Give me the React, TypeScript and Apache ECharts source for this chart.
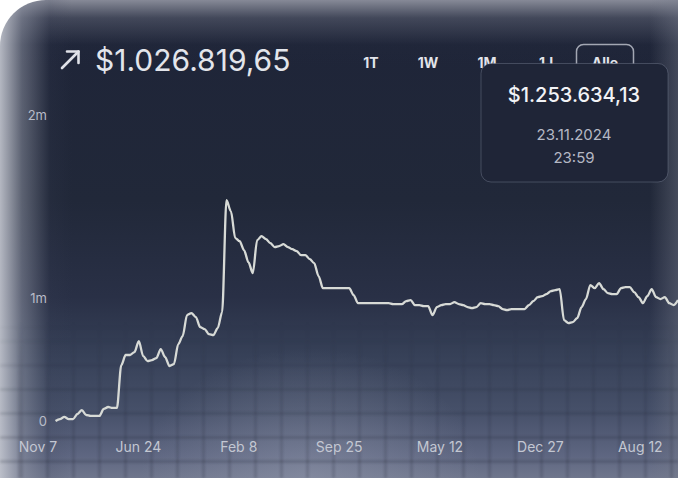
import React, { useEffect, useRef } from 'react';
import * as echarts from 'echarts';

// ---- data (values in thousands of $) ----
const START_DATE = '2021-11-07';
const STEP_DAYS = 10;
const valuesK: (number | null)[] = [
  null, null, null, null, 0, 16, 33, 16, 16, 57, 89, 49, 41, 41, 41, 98, 114, 106, 106,
  455, 537, 537, 561, 650, 528, 488, 496, 512, 585, 520, 447, 463, 626, 691, 862, 878, 846,
  764, 748, 707, 699, 756, 886,
  1797, 1707, 1488, 1463, 1390, 1293, 1203, 1472, 1504, 1480, 1447, 1415, 1423, 1439, 1415,
  1398, 1382, 1350, 1350, 1317, 1285, 1179, 1081,
  1081, 1081, 1081, 1081, 1081, 1081, 1024,
  959, 959, 959, 959, 959, 959, 959, 959,
  951, 951, 951, 976, 984, 943, 943, 935, 935, 862, 927, 943, 951, 951, 967, 951, 943, 927,
  919, 927, 959, 951, 951, 943, 935, 911, 902, 911, 911, 911, 911, 943, 976, 1008, 1016,
  1033, 1057, 1065, 1073, 821, 797, 805, 837, 927, 992, 1106, 1081, 1122, 1073, 1041, 1033,
  1033, 1081, 1089, 1089, 1049, 1008, 959, 1016, 1073, 1008, 992, 1008, 959, 943, 984,
];
const xTickDates = ['2021-11-07', '2022-06-24', '2023-02-08', '2023-09-25', '2024-05-12', '2024-12-27', '2025-08-12'];
const xTickLabels = ['Nov 7', 'Jun 24', 'Feb 8', 'Sep 25', 'May 12', 'Dec 27', 'Aug 12'];
const yTickValues = [0, 1000, 2490];
const yTickLabels = ['0', '1m', '2m'];
const headerValue = '$1.026.819,65';
const rangeButtons = ['1T', '1W', '1M', '1J', 'Alle'];
const tooltipValue = '$1.253.634,13';
const tooltipDate = '23.11.2024';
const tooltipTime = '23:59';

const DAY = 86400000;
const FONT = 'Inter, "Noto Sans", sans-serif';

function toUTC(s: string) {
  const [y, m, d] = s.split('-').map(Number);
  return Date.UTC(y, m - 1, d);
}

export default function App() {
  const ref = useRef<HTMLDivElement>(null);

  useEffect(() => {
    if (!ref.current) return;
    const chart = echarts.init(ref.current, undefined, { renderer: 'svg' });
    const t0 = toUTC(START_DATE);
    // x in days since start date
    const data = valuesK.map((v, i) => [i * STEP_DAYS, v]);
    const xTickValues = xTickDates.map((s) => Math.round((toUTC(s) - t0) / DAY));
    const btnX = [371, 428, 487, 546, 605];

    const graphic: any[] = [
      { type: 'polyline', z: 10, shape: { points: [[62, 68], [78.5, 51.5]] }, style: { stroke: '#dfe1e8', lineWidth: 2.6, lineCap: 'round', fill: null } },
      { type: 'polyline', z: 10, shape: { points: [[67, 51.5], [78.5, 51.5], [78.5, 63]] }, style: { stroke: '#dfe1e8', lineWidth: 2.6, lineCap: 'round', lineJoin: 'round', fill: null } },
      { type: 'text', z: 10, x: 95, y: 60, style: { text: headerValue, fill: '#e3e5eb', fontSize: 30, fontFamily: FONT, verticalAlign: 'middle', align: 'left' } },
      { type: 'rect', z: 10, shape: { x: 576.5, y: 44.5, width: 57, height: 36, r: 7 }, style: { fill: 'none', stroke: '#a3a7b3', lineWidth: 1.5 } },
      ...rangeButtons.map((b, i) => ({
        type: 'text', z: 10, x: btnX[i], y: 62,
        style: { text: b, fill: '#e2e4ea', fontSize: 14, fontWeight: 'bold', fontFamily: FONT, align: 'center', verticalAlign: 'middle' },
      })),
      { type: 'rect', z: 20, shape: { x: 481, y: 63.5, width: 187, height: 118.5, r: 10 }, style: { fill: '#1f2537', stroke: 'rgba(140,148,170,0.35)', lineWidth: 1 } },
      { type: 'text', z: 21, x: 574, y: 95, style: { text: tooltipValue, fill: '#f2f3f6', fontSize: 20, fontWeight: 500, fontFamily: FONT, align: 'center', verticalAlign: 'middle' } },
      { type: 'text', z: 21, x: 574, y: 134, style: { text: tooltipDate, fill: '#b4b8c4', fontSize: 15, fontFamily: FONT, align: 'center', verticalAlign: 'middle' } },
      { type: 'text', z: 21, x: 574, y: 157, style: { text: tooltipTime, fill: '#b4b8c4', fontSize: 15, fontFamily: FONT, align: 'center', verticalAlign: 'middle' } },
    ];

    chart.setOption({
      animation: false,
      backgroundColor: 'transparent',
      grid: { left: 38, right: 0, top: 115, bottom: 57, containLabel: false },
      xAxis: {
        type: 'value',
        min: 0,
        max: (valuesK.length - 1) * STEP_DAYS,
        axisLine: { show: false },
        axisTick: { show: false },
        splitLine: { show: false },
        axisLabel: {
          customValues: xTickValues,
          hideOverlap: false,
          formatter: (v: number) => {
            let best = 0;
            xTickValues.forEach((t, i) => { if (Math.abs(t - v) < Math.abs(xTickValues[best] - v)) best = i; });
            return xTickLabels[best];
          },
          color: '#c3c7d2',
          fontSize: 14,
          fontFamily: FONT,
          margin: 18,
        },
      },
      yAxis: {
        type: 'value',
        min: 0,
        max: yTickValues[yTickValues.length - 1],
        axisLine: { show: false },
        axisTick: { show: false },
        splitLine: { show: false },
        axisLabel: {
          customValues: yTickValues,
          formatter: (v: number) => {
            let best = 0;
            yTickValues.forEach((t, i) => { if (Math.abs(t - v) < Math.abs(yTickValues[best] - v)) best = i; });
            return yTickLabels[best];
          },
          color: '#b8bcc8',
          fontSize: 13,
          fontFamily: FONT,
          margin: -9,
        },
      },
      series: [
        {
          type: 'line',
          data,
          showSymbol: false,
          connectNulls: false,
          smooth: 0.3,
          smoothMonotone: 'x',
          lineStyle: { color: '#d7dad6', width: 2.3 },
          z: 5,
        },
      ],
      graphic,
    });
    return () => chart.dispose();
  }, []);

  const bg = [
    'linear-gradient(to right, rgba(196,199,208,0.9) 0px, rgba(150,155,170,0.5) 22px, rgba(60,66,88,0.15) 50px, rgba(40,46,66,0) 72px)',
    'linear-gradient(to left, rgba(120,125,140,0.4) 0px, rgba(60,66,88,0) 28px)',
    'linear-gradient(to bottom, rgba(140,143,156,0.95) 0px, rgba(90,95,112,0.6) 18px, rgba(40,46,66,0.15) 45px, rgba(30,36,56,0) 65px)',
    'radial-gradient(ellipse 170px 130px at 310px 478px, rgba(160,166,185,0.4), rgba(160,166,185,0) 100%)',
    'linear-gradient(to bottom, #1e2438 0%, #212839 42%, #293046 62%, #364057 74%, #465069 86%, #5d6580 95%, #6f768c 100%)',
  ].join(',');

  return (
    <div style={{ position: 'absolute', left: 0, top: 0, width: 678, height: 478, overflow: 'hidden', background: '#ffffff' }}>
      <div style={{ position: 'absolute', left: 0, top: 0, width: 678, height: 478, borderTopLeftRadius: 46, background: bg, overflow: 'hidden' }}>
        <div
          style={{
            position: 'absolute', left: 0, top: 320, width: 678, height: 158,
            backgroundImage:
              'repeating-linear-gradient(to right, rgba(18,22,36,0.16) 0px, rgba(18,22,36,0.16) 3px, rgba(0,0,0,0) 3px, rgba(0,0,0,0) 26px), repeating-linear-gradient(to bottom, rgba(18,22,36,0.18) 0px, rgba(18,22,36,0.18) 3px, rgba(0,0,0,0) 3px, rgba(0,0,0,0) 24px)',
            backgroundPosition: '20px 20px',
            filter: 'blur(0.8px)',
            WebkitMaskImage: 'linear-gradient(to bottom, rgba(0,0,0,0) 0%, rgba(0,0,0,0.5) 35%, rgba(0,0,0,1) 100%)',
            maskImage: 'linear-gradient(to bottom, rgba(0,0,0,0) 0%, rgba(0,0,0,0.5) 35%, rgba(0,0,0,1) 100%)',
          }}
        />
      </div>
      <div ref={ref} style={{ position: 'absolute', left: 0, top: 0, width: 678, height: 478 }} />
    </div>
  );
}
